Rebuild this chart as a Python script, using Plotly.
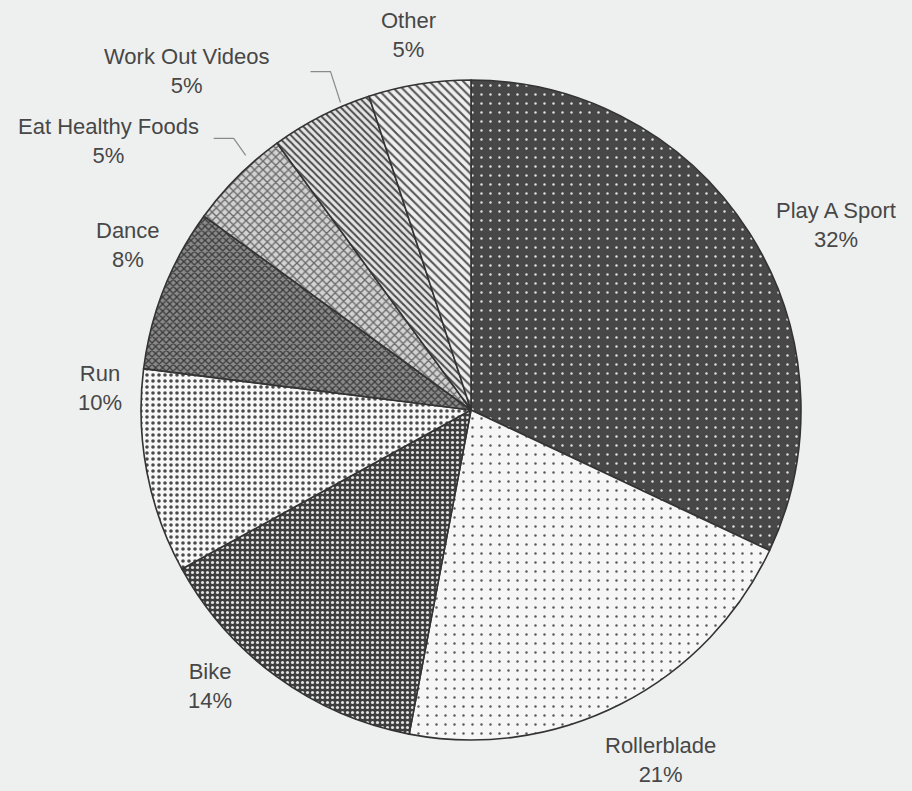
import math
import plotly.graph_objects as go

# ---- data ----
categories = ["Play A Sport", "Rollerblade", "Bike", "Run", "Dance",
              "Eat Healthy Foods", "Work Out Videos", "Other"]
values = [32, 21, 14, 10, 8, 5, 5, 5]

# ---- styling ----
W, H = 912, 791
CX, CY, R = 471, 410, 330           # pie centre / radius in pixels
BG = "#eef0ef"
TEXT = "#474747"

bg_colors = ["#474747", "#f6f6f6", "#3e3e3e", "#f7f7f7", "#8a8a8a", "#d2d2d2", "#e4e4e4", "#efefef"]
fg_colors = ["#e0e0e0", "#5a5a5a", "#e2e2e2", "#4a4a4a", "#3a3a3a", "#6a6a6a", "#4a4a4a", "#555555"]
shapes_p  = [".", ".", ".", ".", "x", "x", "\\", "\\"]
sizes_p   = [9, 9, 5, 6, 5, 6, 5, 6]
solid_p   = [0.06, 0.06, 0.30, 0.28, 0.45, 0.40, 0.40, 0.35]

# label placement tweaks (angle nudge in degrees, radius in px)
label_dang = [5.5, -1.4, 7.4, 14.2, 4.1, -8.4, -13.0, -0.5]
label_rad  = [409, 398, 380, 372, 381, 452, 442, 380]
# leader lines: label -> (angle nudge, radius extra, elbow dx, elbow dy)
leaders = {"Eat Healthy Foods": (3.5, 10, -12, -17),
           "Work Out Videos": (4.0, 4, -10, -31)}

total = sum(values)
dom_x = [(CX - R) / W, (CX + R) / W]
dom_y = [1 - (CY + R) / H, 1 - (CY - R) / H]

fig = go.Figure(go.Pie(
    labels=categories, values=values, sort=False, direction="clockwise",
    rotation=0, textinfo="none", hoverinfo="label+percent",
    domain=dict(x=dom_x, y=dom_y), showlegend=False,
    marker=dict(
        colors=bg_colors,
        line=dict(color="#333333", width=1.6),
        pattern=dict(shape=shapes_p, fgcolor=fg_colors, bgcolor=bg_colors,
                     size=sizes_p, solidity=solid_p, fillmode="replace"),
    ),
))

def to_paper(px, py):
    return px / W, 1 - py / H

annotations, shapes = [], []
cum = 0
for i, (lab, v) in enumerate(zip(categories, values)):
    mid = (cum + v / 2) / total * 360
    cum += v
    a = math.radians(mid + label_dang[i])
    lx = CX + label_rad[i] * math.sin(a)
    ly = CY - label_rad[i] * math.cos(a)
    x, y = to_paper(lx, ly)
    annotations.append(dict(
        x=x, y=y, xref="paper", yref="paper", showarrow=False,
        text=f"{lab}<br>{round(v / total * 100)}%", align="center",
        xanchor="center", yanchor="middle",
        font=dict(family="Liberation Sans, Arial, sans-serif", size=22, color=TEXT),
    ))
    if lab in leaders:
        dang, dr, edx, edy = leaders[lab]
        am = math.radians(mid + dang)
        ex = CX + (R + dr) * math.sin(am)
        ey = CY - (R + dr) * math.cos(am)
        bx, by = ex + edx, ey + edy
        sx, sy = bx - 20, by
        p = [to_paper(ex, ey), to_paper(bx, by), to_paper(sx, sy)]
        shapes.append(dict(
            type="path", xref="paper", yref="paper",
            path=f"M {p[0][0]},{p[0][1]} L {p[1][0]},{p[1][1]} L {p[2][0]},{p[2][1]}",
            line=dict(color="#8a8a8a", width=1.2),
        ))

fig.update_layout(
    width=W, height=H, margin=dict(l=0, r=0, t=0, b=0),
    paper_bgcolor=BG, plot_bgcolor=BG,
    annotations=annotations, shapes=shapes,
)

fig.write_html("out.html", config={"displayModeBar": False},
               post_script="document.body.style.margin='0';document.body.style.overflow='hidden';")
